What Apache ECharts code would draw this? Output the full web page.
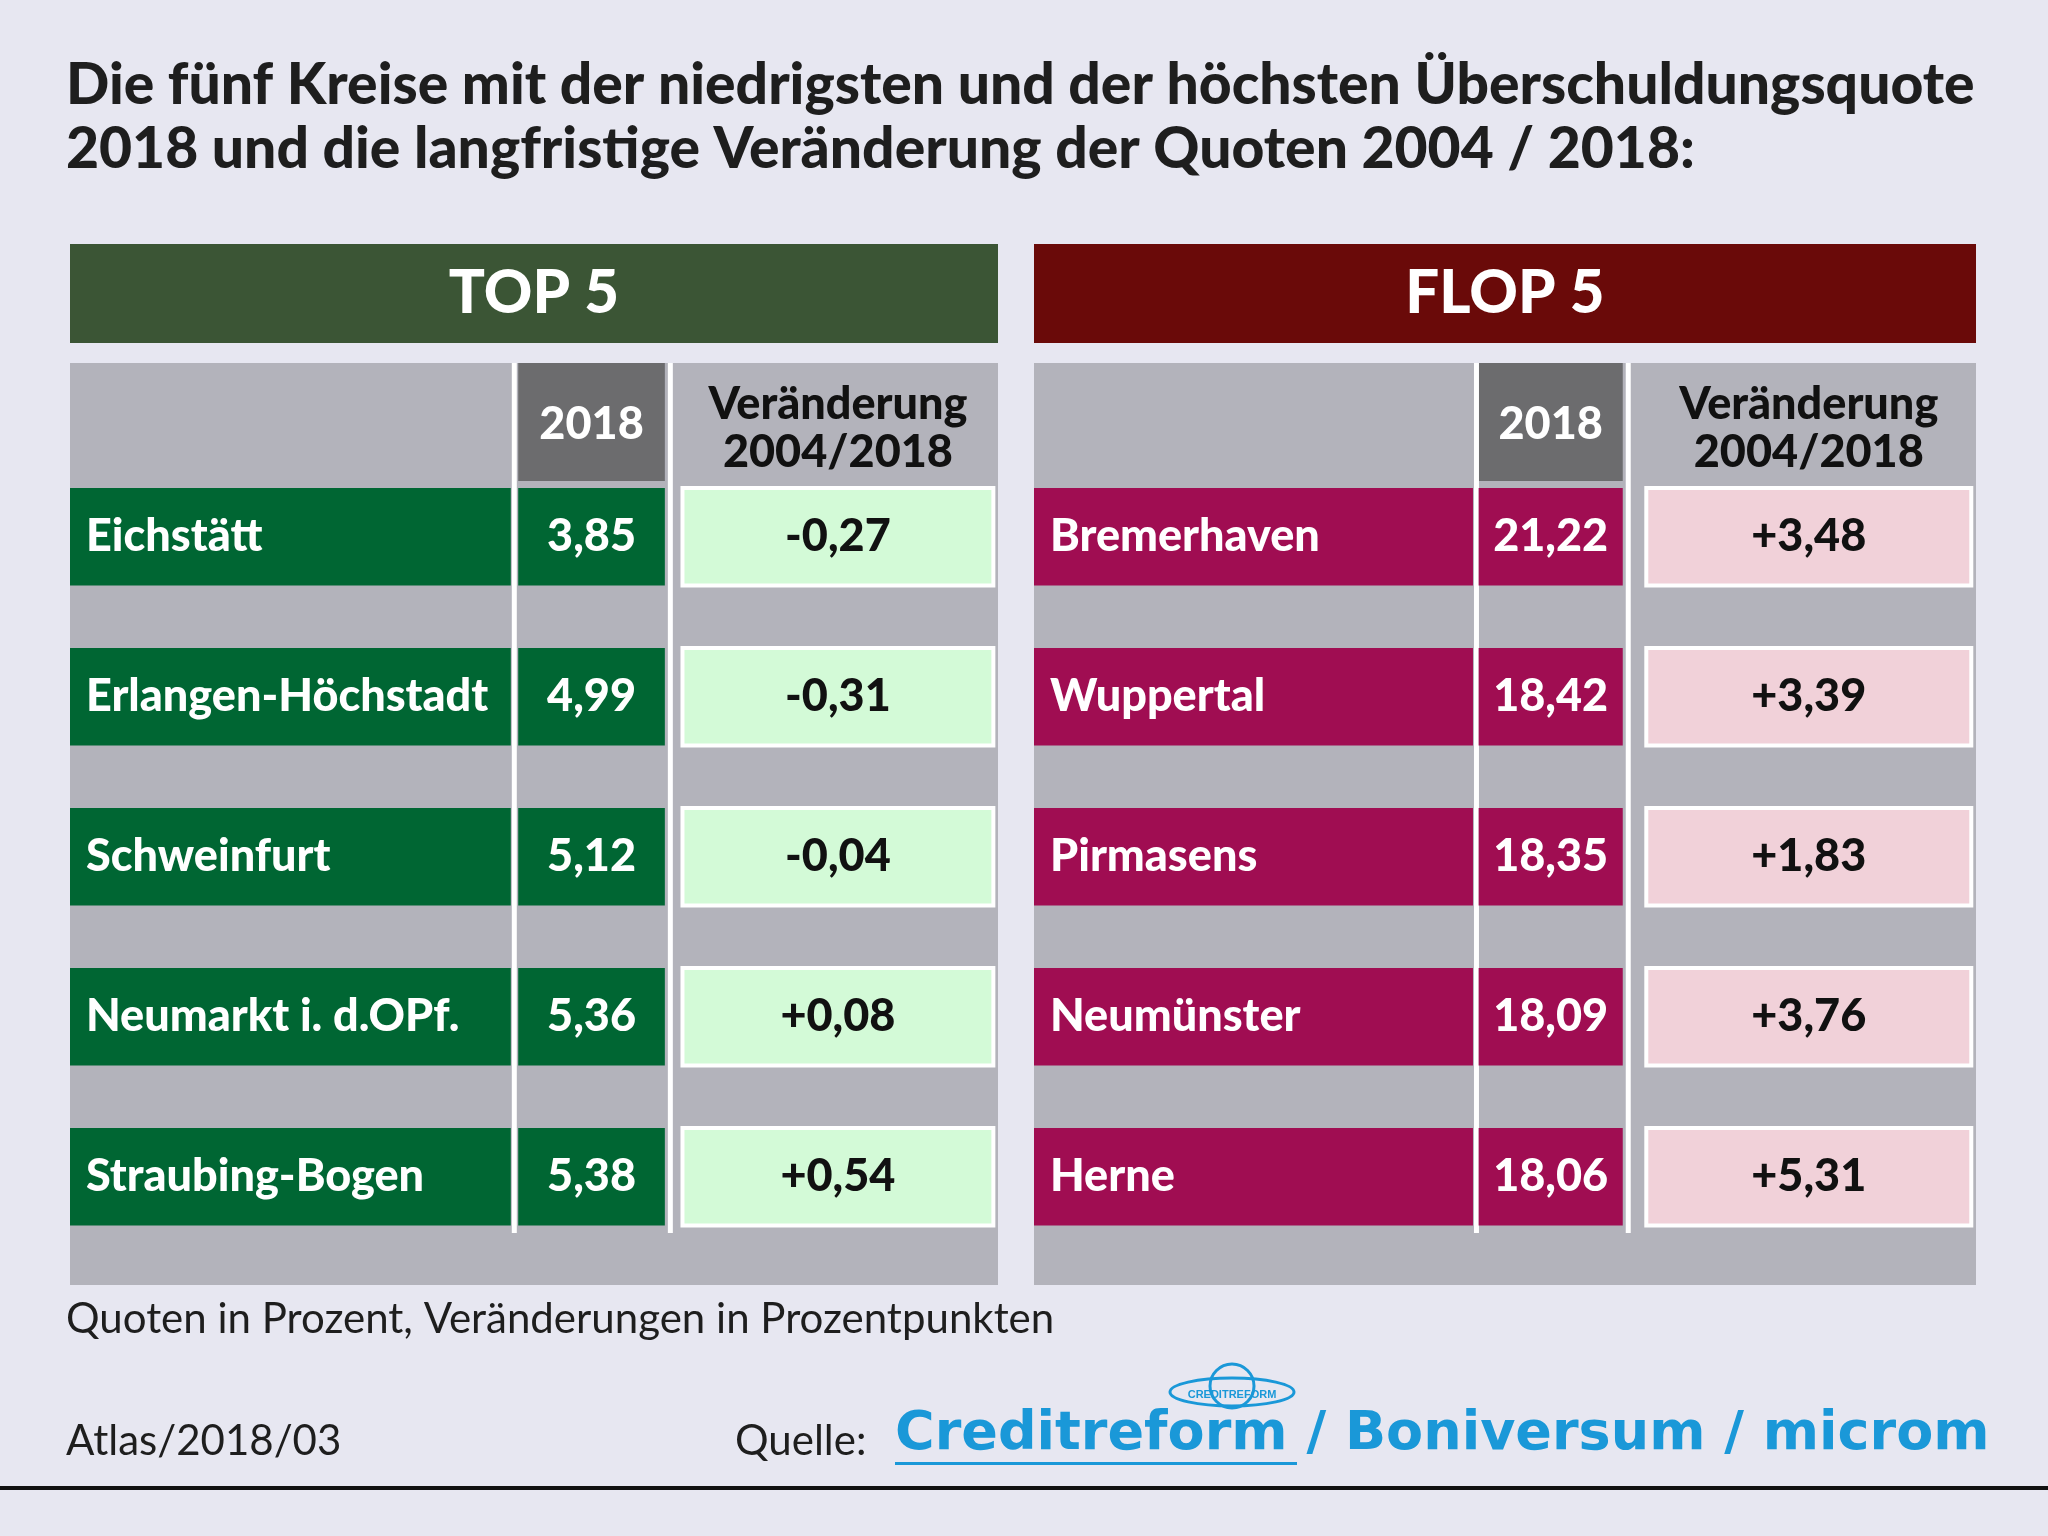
<!DOCTYPE html>
<html><head><meta charset="utf-8">
<script src="https://cdn.jsdelivr.net/npm/echarts@6/dist/echarts.min.js"></script>
<style>html,body{margin:0;padding:0;background:#e7e7f1}#c{width:2048px;height:1536px}</style>
</head><body><div id="c"></div>
<script>
// Daten
var topNames = ['Eichstätt', 'Erlangen-Höchstadt', 'Schweinfurt', 'Neumarkt i. d.OPf.', 'Straubing-Bogen'];
var topQuote = ['3,85', '4,99', '5,12', '5,36', '5,38'];
var topChange = ['-0,27', '-0,31', '-0,04', '+0,08', '+0,54'];
var flopNames = ['Bremerhaven', 'Wuppertal', 'Pirmasens', 'Neumünster', 'Herne'];
var flopQuote = ['21,22', '18,42', '18,35', '18,09', '18,06'];
var flopChange = ['+3,48', '+3,39', '+1,83', '+3,76', '+5,31'];

var FONT = 'Lato, "Open Sans", sans-serif';
var chart = echarts.init(document.getElementById('c'));

// Spaltenanteile je Tabelle
var topCols = {name: 0.475, val: 0.483, valW: 0.158, ch: 0.66, chW: 0.335};
var flopCols = {name: 0.466, val: 0.472, valW: 0.153, ch: 0.65, chW: 0.345};

function makeRender(names, quotes, changes, c, k) {
    return function (params, api) {
        var i = api.value(0);
        var p = api.coord([0, i]);
        var p1 = api.coord([100, i]);
        var band = api.size([0, 1])[1];
        var w = p1[0] - p[0];
        var x0 = p[0], top = p[1] - band / 2, h = band * 0.61;
        var nameW = w * k.name, valX = x0 + w * k.val, valW = w * k.valW;
        var chX = x0 + w * k.ch, chW = w * k.chW;
        return {
            type: 'group', children: [
                {type: 'rect', shape: {x: x0, y: top, width: nameW, height: h}, style: {fill: c.name}},
                {type: 'rect', shape: {x: valX, y: top, width: valW, height: h}, style: {fill: c.name}},
                {type: 'rect', shape: {x: chX, y: top, width: chW, height: h},
                    style: {fill: c.change, stroke: '#ffffff', lineWidth: 4}},
                {type: 'text', style: {x: x0 + 16, y: top + h / 2, text: names[i], fill: '#fff',
                    font: '900 45px ' + FONT, verticalAlign: 'middle'}},
                {type: 'text', style: {x: valX + valW / 2, y: top + h / 2, text: quotes[i], fill: '#fff',
                    font: '900 45px ' + FONT, align: 'center', verticalAlign: 'middle'}},
                {type: 'text', style: {x: chX + chW / 2, y: top + h / 2, text: changes[i], fill: '#111',
                    font: '900 45px ' + FONT, align: 'center', verticalAlign: 'middle'}}
            ]
        };
    };
}

function panel(left, width, title, titleColor, k) {
    return [
        {type: 'rect', left: left, top: 244, shape: {width: width, height: 99}, style: {fill: titleColor}},
        {type: 'text', x: left + width / 2, y: 294, style: {text: title, fill: '#fff',
            font: '900 60px ' + FONT, align: 'center', verticalAlign: 'middle'}},
        {type: 'rect', left: left, top: 363, shape: {width: width, height: 922}, style: {fill: '#b3b3bb'}},
        {type: 'rect', left: left + width * k.val, top: 363, shape: {width: width * k.valW, height: 118}, style: {fill: '#6c6c6e'}},
        {type: 'rect', left: left + width * k.name + 1, top: 363, shape: {width: 5, height: 870}, style: {fill: '#fff'}},
        {type: 'rect', left: left + width * (k.val + k.valW) + 3, top: 363, shape: {width: 5, height: 870}, style: {fill: '#fff'}},
        {type: 'text', x: left + width * (k.val + k.valW / 2), y: 424, style: {text: '2018', fill: '#fff',
            font: '900 45px ' + FONT, align: 'center', verticalAlign: 'middle'}},
        {type: 'text', x: left + width * (k.ch + k.chW / 2), y: 428, style: {text: 'Veränderung\n2004/2018', fill: '#111',
            font: '900 45px ' + FONT, lineHeight: 48, align: 'center', verticalAlign: 'middle'}}
    ];
}

function grid(left, width) {
    return {left: left, width: width, top: 488, height: 800};
}

var rows = [0, 1, 2, 3, 4];
chart.setOption({
    backgroundColor: '#e7e7f1',
    animation: false,
    grid: [grid(70, 928), grid(1034, 942)],
    xAxis: [0, 1].map(function (k) { return {type: 'value', gridIndex: k, min: 0, max: 100, show: false}; }),
    yAxis: [0, 1].map(function (k) { return {type: 'category', gridIndex: k, data: rows, inverse: true, show: false}; }),
    graphic: [].concat(
        panel(70, 928, 'TOP 5', '#3b5535', topCols),
        panel(1034, 942, 'FLOP 5', '#6a0a09', flopCols),
        [
            {type: 'text', left: 66, top: 54, style: {text: 'Die fünf Kreise mit der niedrigsten und der höchsten Überschuldungsquote\n2018 und die langfristige Veränderung der Quoten 2004 / 2018:',
                fill: '#1e1e1e', font: '900 57px ' + FONT, lineHeight: 64}},
            {type: 'text', left: 66, top: 1298, style: {text: 'Quoten in Prozent, Veränderungen in Prozentpunkten', fill: '#1e1e1e', font: '42px ' + FONT}},
            {type: 'text', left: 66, top: 1420, style: {text: 'Atlas/2018/03', fill: '#1e1e1e', font: '42px ' + FONT}},
            {type: 'text', left: 735, top: 1420, style: {text: 'Quelle:', fill: '#1e1e1e', font: '42px ' + FONT}},
            {type: 'text', left: 895, top: 1408, style: {text: 'Creditreform / Boniversum / microm', fill: '#1a98d8',
                font: 'bold 54px "DejaVu Sans", sans-serif'}},
            {type: 'ellipse', shape: {cx: 1232, cy: 1392, rx: 62, ry: 14}, style: {fill: 'none', stroke: '#1a98d8', lineWidth: 3}},
            {type: 'circle', shape: {cx: 1232, cy: 1386, r: 22}, style: {fill: 'none', stroke: '#1a98d8', lineWidth: 3}},
            {type: 'text', x: 1232, y: 1395, style: {text: 'CREDITREFORM', fill: '#1a98d8', font: 'bold 11px sans-serif', align: 'center', verticalAlign: 'middle'}},
            {type: 'rect', left: 895, top: 1462, shape: {width: 402, height: 3}, style: {fill: '#1a98d8'}},
            {type: 'rect', left: 0, top: 1486, shape: {width: 2048, height: 4}, style: {fill: '#111'}}
        ]
    ),
    series: [
        {type: 'custom', xAxisIndex: 0, yAxisIndex: 0, data: rows.map(function (i) { return [i]; }),
            encode: {y: 0}, renderItem: makeRender(topNames, topQuote, topChange, {name: '#006633', change: '#d3fad7'}, topCols)},
        {type: 'custom', xAxisIndex: 1, yAxisIndex: 1, data: rows.map(function (i) { return [i]; }),
            encode: {y: 0}, renderItem: makeRender(flopNames, flopQuote, flopChange, {name: '#a00d52', change: '#f1d1d9'}, flopCols)}
    ]
});
</script></body></html>
